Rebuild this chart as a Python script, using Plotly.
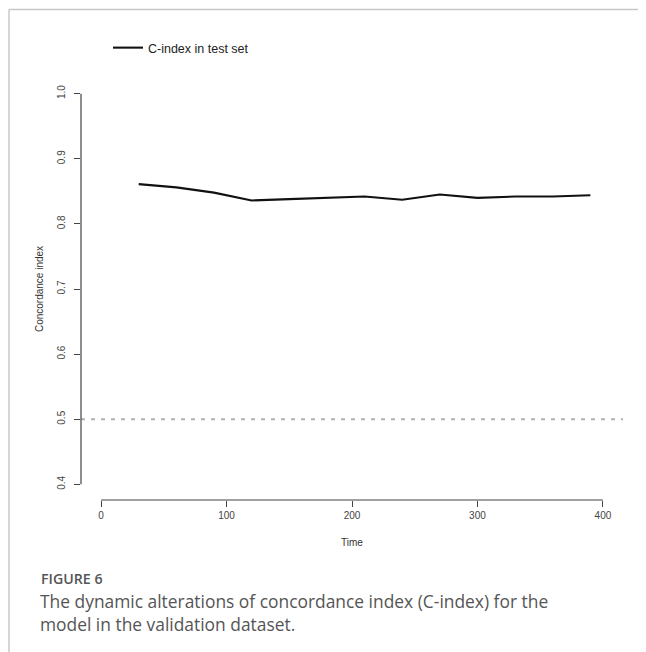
import plotly.graph_objects as go

# Data
time_points = [30, 60, 90, 120, 150, 180, 210, 240, 270, 300, 330, 360, 390]
c_index = [0.861, 0.856, 0.848, 0.836, 0.838, 0.840, 0.842, 0.837, 0.845, 0.840, 0.842, 0.842, 0.844]
reference_level = 0.5
x_ticks = [0, 100, 200, 300, 400]
y_ticks = [0.4, 0.5, 0.6, 0.7, 0.8, 0.9, 1.0]
series_name = "C-index in test set"
x_title = "Time"
y_title = "Concordance index"
fig_label = "FIGURE 6"
caption = "The dynamic alterations of concordance index (C-index) for the<br>model in the validation dataset."

# page body margin offset (default html body margin)
OFF = 8
W, H = 646 - OFF, 652 - OFF
# target screen positions of the plot area
SL, SR, ST, SB = 81, 623, 78, 500
L, T = SL - OFF, ST - OFF
R = W - (SR - OFF)
B = H - (SB - OFF)
pw, ph = W - L - R, H - T - B

# R-style 4% range expansion
xspan = max(x_ticks) - min(x_ticks)
yspan = max(y_ticks) - min(y_ticks)
xr = [min(x_ticks) - 0.04 * xspan, max(x_ticks) + 0.04 * xspan]
yr = [min(y_ticks) - 0.04 * yspan, max(y_ticks) + 0.04 * yspan]

def px_x(sx):
    return (sx - OFF - L) / pw

def px_y(sy):
    return (H - B - (sy - OFF)) / ph

fig = go.Figure()
fig.add_trace(go.Scatter(
    x=time_points, y=c_index, mode="lines", name=series_name,
    line=dict(color="#111111", width=2.1), showlegend=True,
))
fig.add_trace(go.Scatter(
    x=xr, y=[reference_level, reference_level], mode="lines",
    line=dict(color="#b0b0b0", width=2.2, dash="4px,6px"), showlegend=False,
    hoverinfo="skip",
))

shapes = []
# axis lines spanning only the tick range (R style)
shapes.append(dict(type="line", xref="paper", yref="paper",
                   x0=(min(x_ticks) - xr[0]) / (xr[1] - xr[0]),
                   x1=(max(x_ticks) - xr[0]) / (xr[1] - xr[0]),
                   y0=0, y1=0, line=dict(color="#444444", width=1.2)))
shapes.append(dict(type="line", xref="paper", yref="paper",
                   y0=(min(y_ticks) - yr[0]) / (yr[1] - yr[0]),
                   y1=(max(y_ticks) - yr[0]) / (yr[1] - yr[0]),
                   x0=0, x1=0, line=dict(color="#444444", width=1.2)))
# page frame lines
shapes.append(dict(type="line", xref="paper", yref="paper",
                   x0=px_x(9), x1=px_x(660), y0=px_y(9.5), y1=px_y(9.5),
                   line=dict(color="#c8c8c8", width=1.5)))
shapes.append(dict(type="line", xref="paper", yref="paper",
                   x0=px_x(9), x1=px_x(9), y0=px_y(9.5), y1=px_y(670),
                   line=dict(color="#c8c8c8", width=1.5)))

annotations = [
    dict(text=fig_label, xref="paper", yref="paper", x=px_x(39), y=px_y(578),
         xanchor="left", yanchor="middle", showarrow=False,
         font=dict(family="Open Sans", size=14.2, color="#555555", weight=600)),
    dict(text=caption, xref="paper", yref="paper", x=px_x(38), y=px_y(587),
         xanchor="left", yanchor="top", align="left", showarrow=False,
         font=dict(family="Open Sans", size=17.4, color="#555555")),
]

fig.update_layout(
    width=W, height=H,
    margin=dict(l=L, r=R, t=T, b=B),
    paper_bgcolor="white", plot_bgcolor="white",
    font=dict(family="Liberation Sans, Arial", color="#333333"),
    shapes=shapes, annotations=annotations,
    showlegend=True,
    legend=dict(x=px_x(108), y=px_y(48), xanchor="left", yanchor="middle",
                font=dict(family="Liberation Sans, Arial", size=12.5, color="#222222"),
                bgcolor="rgba(0,0,0,0)"),
    xaxis=dict(range=xr, tickvals=x_ticks, ticktext=[str(v) for v in x_ticks],
               showgrid=False, zeroline=False, showline=False,
               ticks="outside", ticklen=6, tickwidth=1.2, tickcolor="#444444",
               tickfont=dict(size=10, color="#444444"),
               title=dict(text=x_title, font=dict(size=10, color="#333333"), standoff=18)),
    yaxis=dict(range=yr, tickvals=y_ticks, ticktext=[f"{v:.1f}" for v in y_ticks],
               showgrid=False, zeroline=False, showline=False,
               ticks="outside", ticklen=6, tickwidth=1.2, tickcolor="#444444",
               tickangle=-90, tickfont=dict(size=10, color="#444444"),
               ticklabelstandoff=5,
               title=dict(text=y_title, font=dict(size=10, color="#333333"), standoff=10)),
)

fig.write_html("out.html")
